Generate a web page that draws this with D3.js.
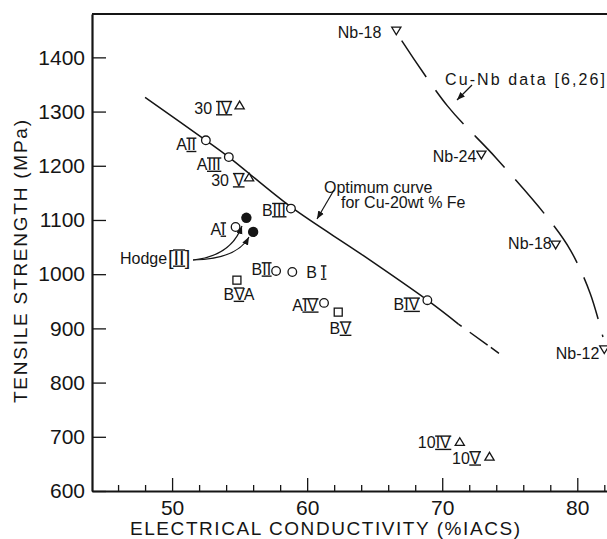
<!DOCTYPE html>
<html>
<head>
<meta charset="utf-8">
<script src="https://cdn.jsdelivr.net/npm/d3@7"></script>
<style>
  body { margin: 0; background: #fff; }
  svg text { font-family: "Liberation Sans", Arial, sans-serif; fill: #151515; }
</style>
</head>
<body>
<div id="chart"></div>
<script>
// tick values
const xMajor = [50, 60, 70, 80];
const xMinor = [46, 48, 52, 54, 56, 58, 62, 64, 66, 68, 72, 74, 76, 78, 82];
const yTicks = [600, 700, 800, 900, 1000, 1100, 1200, 1300, 1400];

// Cu-20wt%Fe specimens, open circles: [conductivity %IACS, strength MPa, prefix, numeral, suffix]
const circlePts = [
    [52.5, 1247, "A", "II", ""],
    [54.2, 1216, "A", "III", ""],
    [58.8, 1121, "B", "III", ""],
    [54.7, 1087, "A", "I", ""],
    [57.7, 1006, "B", "II", ""],
    [58.9, 1004, "B ", "I", ""],
    [61.25, 947, "A", "IV", ""],
    [68.9, 952, "B", "IV", ""]
];
// open squares
const squarePts = [
    [54.8, 989, "B", "V", "A"],
    [62.3, 930, "B", "V", ""]
];
// open triangles
const trianglePts = [
    [55.0, 1311, "30 ", "IV", ""],
    [55.7, 1178, "30 ", "V", ""],
    [71.3, 690, "10", "IV", ""],
    [73.5, 663, "10", "V", ""]
];
// Hodge [II], filled circles
const hodgePts = [
    [55.5, 1104],
    [56.0, 1078]
];
// Cu-Nb data, down triangles
const cuNbPts = [
    [66.6, 1450, "Nb-18"],
    [72.9, 1221, "Nb-24"],
    [78.4, 1055, "Nb-18"],
    [82.0, 862, "Nb-12"]
];

// optimum curve for Cu-20wt%Fe
const optimumSolid = [[48.0, 1326], [52.5, 1247], [54.2, 1216], [58.8, 1124], [64.0, 1037], [68.9, 952], [71.2, 908]];
const optimumDashed = [[71.2, 908], [74.7, 845]];
// Cu-Nb trend
const cuNbCurve = [[67.0, 1431], [70.4, 1310], [74.0, 1214], [77.9, 1101], [79.5, 1044], [80.95, 965], [81.9, 884]];

// label placement [dx, dy, anchor] (layout, kept apart from the data)
const circleLabelPos = [[-10, 10, "end"], [-8, 13, "end"], [-5, 7, "end"], [-10, 8, "end"],
    [-5, 4, "end"], [14, 6, "start"], [-6, 8, "end"], [-8, 10, "end"]];
const squareLabelPos = [[2, 20, "middle"], [2, 22, "middle"]];
const triangleLabelPos = [[-8, 8, "end"], [-5, 8, "end"], [-9, 6, "end"], [-9, 7, "end"]];
const cuNbLabelPos = [[-15, 8, "end"], [-5, 8, "end"], [-4, 5, "end"], [-5, 10, "end"]];

const width = 607, height = 539;
const ink = "#151515";

const svg = d3.select("#chart").append("svg")
    .attr("width", width)
    .attr("height", height);

const x = d3.scaleLinear().domain([44.07, 82.2]).range([92, 607]);
const y = d3.scaleLinear().domain([600, 1480]).range([491, 14]);

svg.append("defs").append("marker")
    .attr("id", "arrow")
    .attr("viewBox", "0 -5 10 10")
    .attr("refX", 10).attr("refY", 0)
    .attr("markerWidth", 8).attr("markerHeight", 8)
    .attr("markerUnits", "userSpaceOnUse")
    .attr("orient", "auto")
    .append("path")
    .attr("d", "M0,-4L10,0L0,4Z")
    .attr("fill", ink);

// axes
svg.append("g")
    .attr("transform", "translate(0,491)")
    .call(d3.axisBottom(x).tickValues(xMajor).tickFormat(d3.format("d"))
        .tickSizeInner(-13).tickSizeOuter(0).tickPadding(9));
svg.append("g")
    .attr("transform", "translate(0,491)")
    .call(d3.axisBottom(x).tickValues(xMinor).tickSize(-6).tickFormat(""))
    .call(g => g.select(".domain").remove());
svg.append("g")
    .attr("transform", "translate(92,0)")
    .call(d3.axisLeft(y).tickValues(yTicks).tickFormat(d3.format("d"))
        .tickSizeInner(-14).tickSizeOuter(0).tickPadding(7));

svg.selectAll(".domain").attr("stroke", ink).attr("stroke-width", 2.2);
svg.selectAll(".tick line").attr("stroke", ink).attr("stroke-width", 1.3);
svg.selectAll(".tick text")
    .attr("fill", ink)
    .style("font-size", "21px")
    .style("font-family", "'Liberation Sans', Arial, sans-serif");

// top frame
svg.append("line")
    .attr("x1", x.range()[0]).attr("x2", x.range()[1])
    .attr("y1", y.range()[1]).attr("y2", y.range()[1])
    .attr("stroke", ink).attr("stroke-width", 2.2);

// axis titles
svg.append("text")
    .attr("x", 325).attr("y", 535)
    .attr("text-anchor", "middle")
    .attr("textLength", 390).attr("lengthAdjust", "spacing")
    .style("font-size", "19px")
    .text("ELECTRICAL CONDUCTIVITY (%IACS)");
svg.append("text")
    .attr("transform", "translate(27,261.5) rotate(-90)")
    .attr("text-anchor", "middle")
    .attr("textLength", 283).attr("lengthAdjust", "spacing")
    .style("font-size", "19px")
    .text("TENSILE STRENGTH (MPa)");

// curves
const line = d3.line().x(d => x(d[0])).y(d => y(d[1])).curve(d3.curveCatmullRom);
svg.append("path").datum(optimumSolid)
    .attr("d", line).attr("fill", "none").attr("stroke", ink).attr("stroke-width", 1.5);
svg.append("path").datum(optimumDashed)
    .attr("d", line).attr("fill", "none").attr("stroke", ink).attr("stroke-width", 1.5)
    .attr("stroke-dasharray", "4,10,22");
svg.append("path").datum(cuNbCurve)
    .attr("d", line).attr("fill", "none").attr("stroke", ink).attr("stroke-width", 1.5)
    .attr("stroke-dasharray", "44,16");

// label with roman numeral drawn with bars above and below
const labels = svg.append("g");
function addLabel(px, py, pre, num, post, anchor, size) {
    const t = labels.append("text")
        .attr("x", px).attr("y", py)
        .attr("text-anchor", anchor)
        .style("font-size", size + "px")
        .text(pre + num + post);
    if (!num) return t;
    const node = t.node();
    const total = node.getComputedTextLength();
    const x0 = anchor === "end" ? px - total : anchor === "middle" ? px - total / 2 : px;
    const a = pre.length ? node.getSubStringLength(0, pre.length) : 0;
    const w = node.getSubStringLength(pre.length, num.length);
    [py + 1.2, py - 0.72 * size - 0.6].forEach(yy => {
        labels.append("line")
            .attr("x1", x0 + a - 0.5).attr("x2", x0 + a + w + 0.5)
            .attr("y1", yy).attr("y2", yy)
            .attr("stroke", ink).attr("stroke-width", 1.4);
    });
    return t;
}

// markers
const marks = svg.append("g");
marks.selectAll(".circ").data(circlePts).enter().append("circle")
    .attr("cx", d => x(d[0])).attr("cy", d => y(d[1])).attr("r", 4.3)
    .attr("fill", "#fff").attr("stroke", ink).attr("stroke-width", 1.3);
marks.selectAll(".sq").data(squarePts).enter().append("rect")
    .attr("x", d => x(d[0]) - 4).attr("y", d => y(d[1]) - 4)
    .attr("width", 8).attr("height", 8)
    .attr("fill", "#fff").attr("stroke", ink).attr("stroke-width", 1.3);
marks.selectAll(".tri").data(trianglePts).enter().append("path")
    .attr("transform", d => `translate(${x(d[0])},${y(d[1])})`)
    .attr("d", "M0,-4.5L4.6,3.2L-4.6,3.2Z")
    .attr("fill", "#fff").attr("stroke", ink).attr("stroke-width", 1.3);
marks.selectAll(".nb").data(cuNbPts).enter().append("path")
    .attr("transform", d => `translate(${x(d[0])},${y(d[1])})`)
    .attr("d", "M0,4.5L4.6,-3.2L-4.6,-3.2Z")
    .attr("fill", "#fff").attr("stroke", ink).attr("stroke-width", 1.3);
marks.selectAll(".hodge").data(hodgePts).enter().append("circle")
    .attr("cx", d => x(d[0])).attr("cy", d => y(d[1])).attr("r", 5.2)
    .attr("fill", ink);

circlePts.forEach((d, i) => {
    const p = circleLabelPos[i];
    addLabel(x(d[0]) + p[0], y(d[1]) + p[1], d[2], d[3], d[4], p[2], 16);
});
squarePts.forEach((d, i) => {
    const p = squareLabelPos[i];
    addLabel(x(d[0]) + p[0], y(d[1]) + p[1], d[2], d[3], d[4], p[2], 16);
});
trianglePts.forEach((d, i) => {
    const p = triangleLabelPos[i];
    addLabel(x(d[0]) + p[0], y(d[1]) + p[1], d[2], d[3], d[4], p[2], 16);
});
cuNbPts.forEach((d, i) => {
    const p = cuNbLabelPos[i];
    addLabel(x(d[0]) + p[0], y(d[1]) + p[1], d[2], "", "", p[2], 16);
});

// annotations
addLabel(120, 264, "Hodge", "", "", "start", 16);
addLabel(168, 265, "[", "II", "]", "start", 20);
addLabel(324, 193, "Optimum curve", "", "", "start", 16);
addLabel(341, 208, "for Cu-20wt % Fe", "", "", "start", 16);
labels.append("text")
    .attr("x", 445).attr("y", 85)
    .attr("textLength", 160).attr("lengthAdjust", "spacing")
    .style("font-size", "16px")
    .text("Cu-Nb data [6,26]");

const arrows = svg.append("g")
    .attr("fill", "none").attr("stroke", ink).attr("stroke-width", 1.2);
arrows.append("path").attr("d", "M472,85L457,100").attr("marker-end", "url(#arrow)");
arrows.append("path").attr("d", "M334,190L317,219").attr("marker-end", "url(#arrow)");
arrows.append("path").attr("d", "M193,260Q231,256 242,226").attr("marker-end", "url(#arrow)");
arrows.append("path").attr("d", "M193,260Q237,259 249,237").attr("marker-end", "url(#arrow)");
</script>
</body>
</html>
